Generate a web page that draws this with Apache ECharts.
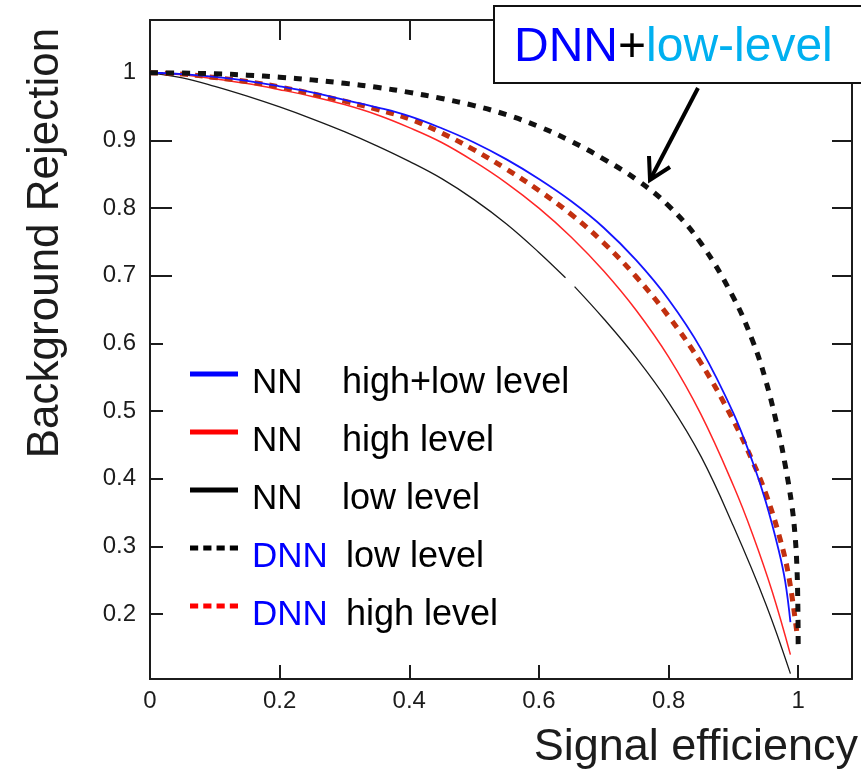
<!DOCTYPE html>
<html>
<head>
<meta charset="utf-8">
<script src="https://cdn.jsdelivr.net/npm/echarts@6/dist/echarts.min.js"></script>
<style>
  html, body { margin: 0; padding: 0; background: #fff; }
  #chart { width: 861px; height: 777px; }
</style>
</head>
<body>
<div id="chart"></div>
<script>
// ROC-style curves: background rejection versus signal efficiency

const xTicks = [0, 0.2, 0.4, 0.6, 0.8, 1];
const yTicks = [0.2, 0.3, 0.4, 0.5, 0.6, 0.7, 0.8, 0.9, 1];

// [signal efficiency, background rejection]
const nnHighLow = [
  [0, 1.0], [0.05, 0.998], [0.1, 0.994], [0.15, 0.988], [0.2, 0.980], [0.25, 0.971],
  [0.3, 0.960], [0.35, 0.949], [0.4, 0.936], [0.45, 0.918], [0.5, 0.897], [0.55, 0.872],
  [0.6, 0.843], [0.65, 0.810], [0.7, 0.771], [0.75, 0.723], [0.8, 0.665], [0.85, 0.592],
  [0.9, 0.497], [0.93, 0.424], [0.95, 0.366], [0.97, 0.294], [0.98, 0.248], [0.988, 0.188]
];
const nnHigh = [
  [0, 1.0], [0.05, 0.997], [0.1, 0.991], [0.15, 0.984], [0.2, 0.975], [0.25, 0.965],
  [0.3, 0.953], [0.35, 0.938], [0.4, 0.919], [0.45, 0.897], [0.5, 0.869], [0.55, 0.837],
  [0.6, 0.800], [0.65, 0.757], [0.7, 0.707], [0.75, 0.649], [0.8, 0.580], [0.85, 0.495],
  [0.9, 0.390], [0.93, 0.317], [0.96, 0.233], [0.988, 0.140]
];
const nnLow = [
  [0, 1.0], [0.05, 0.9925], [0.1, 0.980], [0.15, 0.9655], [0.2, 0.9495], [0.25, 0.932],
  [0.3, 0.913], [0.35, 0.892], [0.4, 0.869], [0.45, 0.8435], [0.5, 0.8125], [0.55, 0.7765],
  [0.6, 0.7345], [0.641, 0.697], [0.646, '-'], [0.655, 0.684], [0.7, 0.6365], [0.75, 0.579],
  [0.8, 0.513], [0.85, 0.433], [0.9, 0.330], [0.95, 0.215], [0.988, 0.112]
];
const dnnLow = [
  [0, 1.0], [0.05, 0.9995], [0.1, 0.9985], [0.15, 0.9965], [0.2, 0.9935], [0.25, 0.9895],
  [0.3, 0.9845], [0.35, 0.9785], [0.4, 0.971], [0.45, 0.962], [0.5, 0.9515], [0.55, 0.938],
  [0.6, 0.9205], [0.65, 0.8985], [0.7, 0.8725], [0.75, 0.8425], [0.8, 0.8035], [0.85, 0.748],
  [0.9, 0.668], [0.93, 0.603], [0.95, 0.545], [0.97, 0.468], [0.98, 0.420], [0.99, 0.362],
  [0.995, 0.318], [0.998, 0.270], [0.9995, 0.210], [1.0, 0.145]
];
const dnnHigh = [
  [0, 1.0], [0.05, 0.998], [0.1, 0.993], [0.15, 0.987], [0.2, 0.979], [0.25, 0.969],
  [0.3, 0.958], [0.35, 0.946], [0.4, 0.932], [0.45, 0.911], [0.5, 0.886], [0.55, 0.8575],
  [0.6, 0.826], [0.65, 0.7905], [0.7, 0.7485], [0.75, 0.6985], [0.8, 0.640], [0.85, 0.571],
  [0.9, 0.486], [0.93, 0.425], [0.95, 0.378], [0.97, 0.318], [0.985, 0.258], [0.998, 0.172]
];

const FONT = "'Liberation Sans', Arial, Helvetica, sans-serif";
const INK = '#1c1c1c';

// legend text pieces: network type and input description
const legendParts = {
  'NN high+low level': ['nn', 'NN', 'high+low level'],
  'NN high level': ['nn', 'NN', 'high level'],
  'NN low level': ['nn', 'NN', 'low level'],
  'DNN low level': ['dnn', 'DNN', 'low level'],
  'DNN high level': ['dnn', 'DNN', 'high level']
};

// legend glyphs: a bar for solid curves, four squares for dashed ones
const SOLID_ICON = 'rect';
const DOTS_ICON = 'path://M0,0h8v5h-8zM13,0h8v5h-8zM26,0h8v5h-8zM39,0h8v5h-8z';

const chart = echarts.init(document.getElementById('chart'), null, { renderer: 'canvas' });

const tickLabel = { color: INK, fontSize: 24, fontFamily: FONT };
const axisLine = { show: true, lineStyle: { color: INK, width: 2 } };

function curve(name, data, color, width, dash, z) {
  return {
    name, type: 'line', data,
    symbol: 'none', showSymbol: false,
    smooth: 0.4, connectNulls: false,
    lineStyle: { color, width, type: dash || 'solid', cap: 'butt' },
    itemStyle: { color },
    emphasis: { disabled: true },
    animation: false,
    z
  };
}

function legendItem(name, icon, color) {
  return { name, icon, itemStyle: { color, borderWidth: 0 } };
}

// text sits a little below the legend glyph: top padding pushes it down
const textToken = { fontFamily: FONT, fontSize: 36, color: '#000', lineHeight: 40, padding: [18, 0, 0, 0] };

const option = {
  animation: false,
  backgroundColor: '#fff',
  grid: { left: 150, right: 9, top: 20, bottom: 98, containLabel: false },
  xAxis: [
    {
      type: 'value', position: 'bottom', min: 0, max: 1.083,
      axisLine,
      axisTick: { show: true, inside: true, length: 14, customValues: xTicks, lineStyle: { color: INK, width: 2 } },
      axisLabel: { show: true, customValues: xTicks, margin: 10, ...tickLabel },
      splitLine: { show: false }
    },
    {
      type: 'value', position: 'top', min: 0, max: 1.083,
      axisLine,
      axisTick: { show: true, inside: true, length: 20, customValues: xTicks, lineStyle: { color: INK, width: 2 } },
      axisLabel: { show: false },
      splitLine: { show: false }
    }
  ],
  yAxis: [
    {
      type: 'value', position: 'left', min: 0.104, max: 1.078,
      axisLine,
      axisTick: { show: true, inside: true, length: 13, customValues: [0.2, 0.3, 0.4, 0.5, 0.6, 1], lineStyle: { color: INK, width: 2 } },
      axisLabel: { show: true, customValues: yTicks, margin: 14, ...tickLabel },
      splitLine: { show: false }
    },
    {
      type: 'value', position: 'left', min: 0.104, max: 1.078,
      axisLine,
      axisTick: { show: true, inside: true, length: 22, customValues: [0.7, 0.8, 0.9], lineStyle: { color: INK, width: 2 } },
      axisLabel: { show: false },
      splitLine: { show: false }
    },
    {
      type: 'value', position: 'right', min: 0.104, max: 1.078,
      axisLine,
      axisTick: { show: true, inside: true, length: 20, customValues: yTicks, lineStyle: { color: INK, width: 2 } },
      axisLabel: { show: false },
      splitLine: { show: false }
    }
  ],
  legend: {
    orient: 'vertical',
    left: 190, top: 347, padding: 0,
    itemWidth: 48, itemHeight: 5, itemGap: 4,
    symbolKeepAspect: false,
    selectedMode: false,
    data: [
      legendItem('NN high+low level', SOLID_ICON, '#0000ff'),
      legendItem('NN high level', SOLID_ICON, '#ff0000'),
      legendItem('NN low level', SOLID_ICON, '#000000'),
      legendItem('DNN low level', DOTS_ICON, '#000000'),
      legendItem('DNN high level', DOTS_ICON, '#ff0000')
    ],
    formatter: (name) => {
      const p = legendParts[name];
      return '{h| }{' + p[0] + '|' + p[1] + '}{t|' + p[2] + '}';
    },
    textStyle: {
      fontFamily: FONT, fontSize: 36, color: '#000',
      rich: {
        h: { ...textToken, width: 9 },
        nn: { ...textToken, fontSize: 35, width: 90 },
        dnn: { ...textToken, fontSize: 35, color: '#0000ff', width: 94 },
        t: { ...textToken }
      }
    }
  },
  series: [
    curve('NN low level', nnLow, '#1a1a1a', 1.3, null, 2),
    curve('NN high level', nnHigh, '#ff2626', 1.5, null, 3),
    curve('DNN high level', dnnHigh, '#c2300f', 5, [8, 7], 4),
    curve('NN high+low level', nnHighLow, '#1414ff', 1.8, null, 5),
    curve('DNN low level', dnnLow, '#111111', 5, [8, 8], 6)
  ],
  graphic: [
    // axis titles
    {
      type: 'text', x: 858, y: 770, z: 50,
      style: { text: 'Signal efficiency', fill: INK, font: '45px ' + FONT, textAlign: 'right', textVerticalAlign: 'bottom' }
    },
    {
      type: 'text', x: 46, y: 243, rotation: Math.PI / 2, z: 50,
      style: { text: 'Background Rejection', fill: INK, font: '44px ' + FONT, textAlign: 'center', textVerticalAlign: 'middle' }
    },
    // callout box
    {
      type: 'rect', z: 100,
      shape: { x: 494, y: 6, width: 420, height: 77 },
      style: { fill: '#fff', stroke: '#111', lineWidth: 2 }
    },
    {
      type: 'text', x: 514, y: 48, z: 101,
      style: {
        text: '{b|DNN}{k|+}{c|low-level}',
        textVerticalAlign: 'middle', textAlign: 'left',
        rich: {
          b: { fill: '#0000ff', fontSize: 48, fontFamily: FONT },
          k: { fill: '#000', fontSize: 48, fontFamily: FONT },
          c: { fill: '#00b0f0', fontSize: 48, fontFamily: FONT }
        }
      }
    },
    // arrow pointing at the DNN low-level curve
    {
      type: 'line', z: 101,
      shape: { x1: 698, y1: 88, x2: 651, y2: 178 },
      style: { stroke: '#000', lineWidth: 4 }
    },
    {
      type: 'polyline', z: 101,
      shape: { points: [[649, 156], [650, 180], [670, 167]] },
      style: { stroke: '#000', lineWidth: 4, fill: null, lineJoin: 'miter' }
    }
  ]
};

chart.setOption(option);
</script>
</body>
</html>
